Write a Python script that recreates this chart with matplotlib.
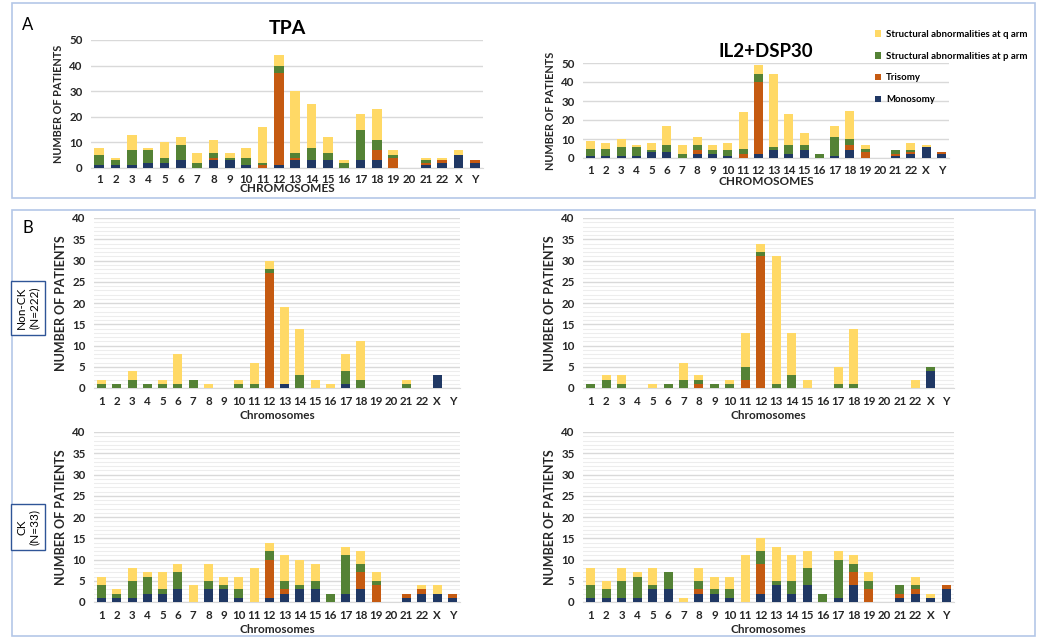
import numpy as np
import matplotlib
matplotlib.use('Agg')
import matplotlib.pyplot as plt
from matplotlib.patches import Rectangle

plt.rcParams['font.family'] = ['Lato', 'DejaVu Sans']

# 数据
chromosomes = [str(i) for i in range(1, 23)] + ['X', 'Y']
series_names = ['Monosomy', 'Trisomy',
                'Structural abnormalities at p arm',
                'Structural abnormalities at q arm']
colors = ['#203864', '#C55A11', '#548235', '#FFD966']

# A: TPA
tpa_mono = [1, 1, 1, 2, 2, 3, 0, 3, 3, 1, 0, 1, 3, 3, 3, 0, 3, 3, 0, 0, 1, 2, 5, 2]
tpa_tri = [0, 0, 0, 0, 0, 0, 0, 1, 0, 0, 1, 36, 1, 0, 0, 0, 0, 4, 4, 0, 1, 1, 0, 1]
tpa_p = [4, 2, 6, 5, 2, 6, 2, 2, 1, 3, 1, 3, 2, 5, 3, 2, 12, 4, 1, 0, 1, 0, 0, 0]
tpa_q = [3, 1, 6, 1, 6, 3, 4, 5, 2, 4, 14, 4, 24, 17, 6, 1, 6, 12, 2, 0, 1, 1, 2, 0]

# A: IL2+DSP30
il2_mono = [1, 1, 1, 1, 3, 3, 0, 2, 2, 1, 0, 2, 4, 2, 4, 0, 1, 4, 0, 0, 1, 2, 6, 2]
il2_tri = [0, 0, 0, 0, 0, 0, 0, 2, 0, 0, 2, 38, 0, 0, 0, 0, 0, 3, 3, 0, 1, 1, 0, 1]
il2_p = [4, 4, 5, 5, 1, 4, 2, 3, 2, 3, 3, 4, 2, 5, 3, 2, 10, 3, 2, 0, 2, 1, 0, 0]
il2_q = [4, 3, 4, 1, 4, 10, 5, 4, 3, 4, 19, 5, 38, 16, 6, 0, 6, 15, 2, 0, 0, 4, 1, 0]

# B: Non-CK, TPA
nck_tpa_mono = [0, 0, 0, 0, 0, 0, 0, 0, 0, 0, 0, 0, 1, 0, 0, 0, 1, 0, 0, 0, 0, 0, 3, 0]
nck_tpa_tri = [0, 0, 0, 0, 0, 0, 0, 0, 0, 0, 0, 27, 0, 0, 0, 0, 0, 0, 0, 0, 0, 0, 0, 0]
nck_tpa_p = [1, 1, 2, 1, 1, 1, 2, 0, 0, 1, 1, 1, 0, 3, 0, 0, 3, 2, 0, 0, 1, 0, 0, 0]
nck_tpa_q = [1, 0, 2, 0, 1, 7, 0, 1, 0, 1, 5, 2, 18, 11, 2, 1, 4, 9, 0, 0, 1, 0, 0, 0]

# B: Non-CK, IL2+DSP30
nck_il2_mono = [0, 0, 0, 0, 0, 0, 0, 0, 0, 0, 0, 0, 0, 0, 0, 0, 0, 0, 0, 0, 0, 0, 4, 0]
nck_il2_tri = [0, 0, 0, 0, 0, 0, 0, 1, 0, 0, 2, 31, 0, 0, 0, 0, 0, 0, 0, 0, 0, 0, 0, 0]
nck_il2_p = [1, 2, 1, 0, 0, 1, 2, 1, 1, 1, 3, 1, 1, 3, 0, 0, 1, 1, 0, 0, 0, 0, 1, 0]
nck_il2_q = [0, 1, 2, 0, 1, 0, 4, 1, 0, 1, 8, 2, 30, 10, 2, 0, 4, 13, 0, 0, 0, 2, 0, 0]

# B: CK, TPA
ck_tpa_mono = [1, 1, 1, 2, 2, 3, 0, 3, 3, 1, 0, 1, 2, 3, 3, 0, 2, 3, 0, 0, 1, 2, 2, 1]
ck_tpa_tri = [0, 0, 0, 0, 0, 0, 0, 0, 0, 0, 0, 9, 1, 0, 0, 0, 0, 4, 4, 0, 1, 1, 0, 1]
ck_tpa_p = [3, 1, 4, 4, 1, 4, 0, 2, 1, 2, 0, 2, 2, 1, 2, 2, 9, 2, 1, 0, 0, 0, 0, 0]
ck_tpa_q = [2, 1, 3, 1, 4, 2, 4, 4, 2, 3, 8, 2, 6, 6, 4, 0, 2, 3, 2, 0, 0, 1, 2, 0]

# B: CK, IL2+DSP30
ck_il2_mono = [1, 1, 1, 1, 3, 3, 0, 2, 2, 1, 0, 2, 4, 2, 4, 0, 1, 4, 0, 0, 1, 2, 1, 3]
ck_il2_tri = [0, 0, 0, 0, 0, 0, 0, 1, 0, 0, 0, 7, 0, 0, 0, 0, 0, 3, 3, 0, 1, 1, 0, 1]
ck_il2_p = [3, 2, 4, 5, 1, 4, 0, 2, 1, 2, 0, 3, 1, 3, 4, 2, 9, 2, 2, 0, 2, 1, 0, 0]
ck_il2_q = [4, 2, 3, 1, 4, 0, 1, 3, 3, 3, 11, 3, 8, 6, 4, 0, 2, 2, 2, 0, 0, 2, 1, 0]

W, H = 1038, 639
fig = plt.figure(figsize=(W / 100, H / 100), dpi=100)


def ax_px(x0, x1, y_top, y_bot):
    return fig.add_axes([x0 / W, 1 - y_bot / H, (x1 - x0) / W, (y_bot - y_top) / H])


def draw_panel(ax, data, ymax, ystep, xlabel, ylabel_size, tick_size, minor=False,
               xpad=6, labelpad=2):
    x = np.arange(len(chromosomes))
    bottom = np.zeros(len(chromosomes))
    bars = []
    for vals, c, name in zip(data, colors, series_names):
        b = ax.bar(x, vals, 0.58, bottom=bottom, color=c, label=name, zorder=3)
        bars.append(b)
        bottom = bottom + np.array(vals)
    ax.set_xlim(-0.5, len(chromosomes) - 0.5)
    ax.set_ylim(0, ymax)
    ax.set_yticks(np.arange(0, ymax + 1, ystep))
    if minor:
        ax.set_yticks(np.arange(0, ymax + 1, 1), minor=True)
        ax.grid(axis='y', which='minor', color='#EDEDED', linewidth=0.8, zorder=0)
    ax.grid(axis='y', which='major', color='#D9D9D9', linewidth=1.0, zorder=0)
    ax.set_xticks(x)
    ax.set_xticklabels(chromosomes)
    ax.tick_params(which='both', length=0, labelsize=tick_size, colors='#262626', pad=6)
    ax.tick_params(axis='x', pad=xpad)
    for lab in ax.get_xticklabels() + ax.get_yticklabels():
        lab.set_fontweight('bold')
    for s in ['top', 'right', 'left']:
        ax.spines[s].set_visible(False)
    ax.spines['bottom'].set_color('#D9D9D9')
    ax.set_xlabel(xlabel, fontsize=8.5, fontweight='bold', color='#262626', labelpad=labelpad)
    ax.set_ylabel('NUMBER OF PATIENTS', fontsize=ylabel_size, fontweight='bold',
                  color='#262626', labelpad=4)
    return bars


# 外框
fig.add_artist(Rectangle((12 / W, 1 - 198 / H), 1023 / W, 195 / H, transform=fig.transFigure,
                         fill=False, ec='#B4C7E7', lw=1.2))
fig.add_artist(Rectangle((12 / W, 1 - 636 / H), 1023 / W, 426 / H, transform=fig.transFigure,
                         fill=False, ec='#B4C7E7', lw=1.2))

ax1 = ax_px(91, 483, 40, 168)
bars = draw_panel(ax1, [tpa_mono, tpa_tri, tpa_p, tpa_q], 50, 10, 'CHROMOSOMES', 7.8, 8.3,
                  xpad=4, labelpad=-1)
ax1.set_title('TPA', fontsize=14, fontweight='bold', pad=4)

ax2 = ax_px(583, 949, 63, 158)
draw_panel(ax2, [il2_mono, il2_tri, il2_p, il2_q], 50, 10, 'CHROMOSOMES', 7.8, 8.3,
           xpad=5, labelpad=0)
ax2.set_title('IL2+DSP30', fontsize=13.5, fontweight='bold', pad=4)

ax3 = ax_px(94, 460, 218, 388)
draw_panel(ax3, [nck_tpa_mono, nck_tpa_tri, nck_tpa_p, nck_tpa_q], 40, 5, 'Chromosomes', 9, 8.3, True)
ax4 = ax_px(583, 954, 218, 388)
draw_panel(ax4, [nck_il2_mono, nck_il2_tri, nck_il2_p, nck_il2_q], 40, 5, 'Chromosomes', 9, 8.3, True)
ax5 = ax_px(94, 460, 432, 602)
draw_panel(ax5, [ck_tpa_mono, ck_tpa_tri, ck_tpa_p, ck_tpa_q], 40, 5, 'Chromosomes', 9, 8.3, True)
ax6 = ax_px(583, 954, 432, 602)
draw_panel(ax6, [ck_il2_mono, ck_il2_tri, ck_il2_p, ck_il2_q], 40, 5, 'Chromosomes', 9, 8.3, True)

# 图例 (顺序反转)
fig.legend(bars[::-1], series_names[::-1], loc='upper left',
           bbox_to_anchor=(866 / W, 1 - 21 / H), frameon=False,
           handlelength=0.7, handleheight=0.7, handletextpad=0.5, labelspacing=1.35,
           prop={'weight': 'bold', 'size': 6.9})

fig.text(22 / W, 1 - 25 / H, 'A', fontsize=12, va='center', ha='left')
fig.text(22 / W, 1 - 228 / H, 'B', fontsize=12, va='center', ha='left')

box = dict(boxstyle='square,pad=0.45', fc='white', ec='#2F5597', lw=1.0)
fig.text(28 / W, 1 - 308 / H, 'Non-CK\n(N=222)', rotation=90, fontsize=8.5,
         ha='center', va='center', multialignment='center', bbox=box)
fig.text(28 / W, 1 - 527 / H, 'CK\n(N=33)', rotation=90, fontsize=8.5,
         ha='center', va='center', multialignment='center', bbox=box)

fig.savefig('out.png', dpi=100)
